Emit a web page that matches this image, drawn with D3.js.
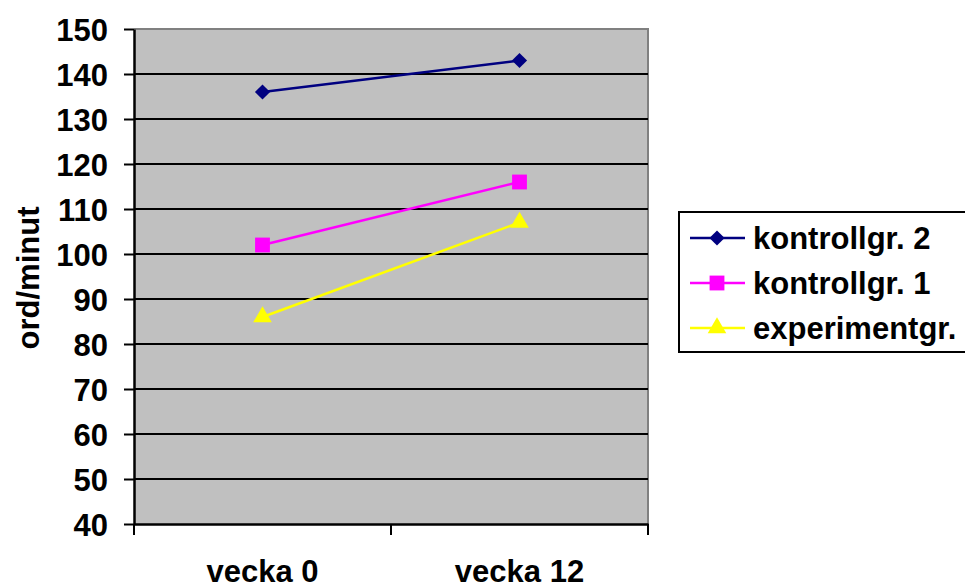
<!DOCTYPE html>
<html>
<head>
<meta charset="utf-8">
<script src="https://cdn.jsdelivr.net/npm/d3@7/dist/d3.min.js"></script>
<style>
  html, body { margin: 0; padding: 0; background: #fff; }
  svg { display: block; font-family: "Liberation Sans", Arial, sans-serif; font-weight: bold; }
</style>
</head>
<body>
<svg id="chart" width="965" height="584"></svg>
<script>
const categories = ["vecka 0", "vecka 12"];
const seriesNames = ["kontrollgr. 2", "kontrollgr. 1", "experimentgr."];
const kontroll2 = [136, 143];
const kontroll1 = [102, 116];
const experiment = [86, 107];
const yTicks = [40, 50, 60, 70, 80, 90, 100, 110, 120, 130, 140, 150];
const yTitle = "ord/minut";

const series = [
  { name: seriesNames[0], values: kontroll2, color: "#000080", symbol: d3.symbolSquare, size: 115, rot: 45 },
  { name: seriesNames[1], values: kontroll1, color: "#ff00ff", symbol: d3.symbolSquare, size: 220, rot: 0 },
  { name: seriesNames[2], values: experiment, color: "#ffff00", symbol: d3.symbolTriangle, size: 150, rot: 0 }
];

const FS = 31;
const svg = d3.select("#chart");
const m = { left: 134, top: 29, right: 648, bottom: 524 };

const x = d3.scaleBand().domain(categories).range([m.left, m.right]);
const y = d3.scaleLinear().domain([40, 150]).range([m.bottom, m.top]);

svg.append("rect")
  .attr("x", m.left).attr("y", m.top)
  .attr("width", m.right - m.left).attr("height", m.bottom - m.top)
  .attr("fill", "#c0c0c0");

svg.append("path")
  .attr("d", `M${m.left},${m.top}H${m.right}V${m.bottom}`)
  .attr("fill", "none").attr("stroke", "#808080").attr("stroke-width", 2);

svg.append("g").selectAll("line")
  .data(yTicks.filter(v => v !== 40 && v !== 150))
  .join("line")
  .attr("x1", m.left).attr("x2", m.right)
  .attr("y1", d => y(d)).attr("y2", d => y(d))
  .attr("stroke", "#000").attr("stroke-width", 2);

const yAxis = svg.append("g")
  .attr("transform", `translate(${m.left},0)`)
  .call(d3.axisLeft(y).tickValues(yTicks).tickSize(10).tickPadding(16).tickSizeOuter(0));
yAxis.select(".domain").attr("stroke", "#000").attr("stroke-width", 2.5);
yAxis.selectAll(".tick line").attr("stroke", "#000").attr("stroke-width", 2);
yAxis.selectAll(".tick text")
  .attr("font-size", FS).attr("font-weight", "bold")
  .attr("font-family", "Liberation Sans, Arial, sans-serif")
  .attr("fill", "#000").attr("dy", "0.36em");

const xAxis = svg.append("g")
  .attr("transform", `translate(0,${m.bottom})`)
  .call(d3.axisBottom(x).tickSize(0).tickPadding(58));
xAxis.select(".domain").attr("stroke", "#000").attr("stroke-width", 2.5);
xAxis.selectAll(".tick text")
  .attr("font-size", FS).attr("font-weight", "bold")
  .attr("font-family", "Liberation Sans, Arial, sans-serif")
  .attr("fill", "#000").attr("dy", 0);
const bounds = [x.range()[0]].concat(categories.map(c => x(c) + x.bandwidth()));
svg.append("g").selectAll("line").data(bounds).join("line")
  .attr("x1", d => d).attr("x2", d => d)
  .attr("y1", m.bottom).attr("y2", m.bottom + 11)
  .attr("stroke", "#000").attr("stroke-width", 2);

svg.append("text")
  .attr("transform", `translate(39,278) rotate(-90)`)
  .attr("text-anchor", "middle")
  .attr("font-size", FS)
  .attr("fill", "#000")
  .text(yTitle);

const cx = c => x(c) + x.bandwidth() / 2;
const line = d3.line().x((d, i) => cx(categories[i])).y(d => y(d));
series.forEach(s => {
  svg.append("path")
    .attr("d", line(s.values))
    .attr("fill", "none").attr("stroke", s.color).attr("stroke-width", 2.5);
  svg.append("g").selectAll("path").data(s.values).join("path")
    .attr("transform", (d, i) => `translate(${cx(categories[i])},${y(d)}) rotate(${s.rot})`)
    .attr("d", d3.symbol().type(s.symbol).size(s.size))
    .attr("fill", s.color);
});

const lg = svg.append("g");
lg.append("rect")
  .attr("x", 679).attr("y", 212)
  .attr("width", 300).attr("height", 140)
  .attr("fill", "#fff").attr("stroke", "#000").attr("stroke-width", 2);
series.forEach((s, i) => {
  const yy = 238 + i * 45;
  lg.append("line")
    .attr("x1", 690).attr("x2", 745).attr("y1", yy).attr("y2", yy)
    .attr("stroke", s.color).attr("stroke-width", 2.5);
  lg.append("path")
    .attr("transform", `translate(717,${yy}) rotate(${s.rot})`)
    .attr("d", d3.symbol().type(s.symbol).size(s.size))
    .attr("fill", s.color);
  lg.append("text")
    .attr("x", 753).attr("y", yy).attr("dy", "0.36em")
    .attr("font-size", FS).attr("fill", "#000")
    .text(s.name);
});
</script>
</body>
</html>
